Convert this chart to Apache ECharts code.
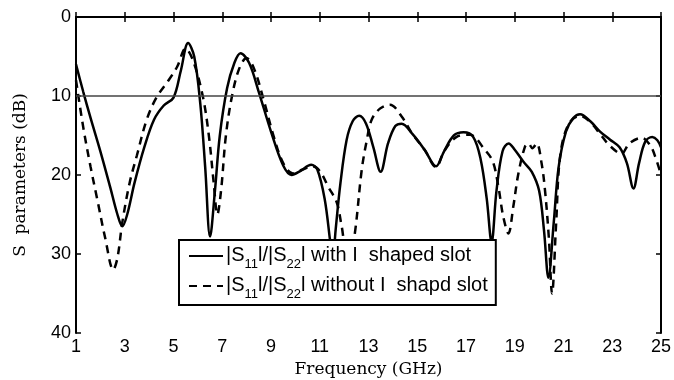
<!DOCTYPE html>
<html>
<head>
<meta charset="utf-8">
<script src="https://cdn.jsdelivr.net/npm/echarts@6/dist/echarts.min.js"></script>
<style>
html,body{margin:0;padding:0;background:#fff;}
#chart{width:674px;height:380px;}
</style>
</head>
<body>
<div id="chart"></div>
<script>
// Frequency (GHz) / S (dB) pairs
var withSlotX = [1,1.3,1.6,2.0,2.4,2.7,2.9,3.1,3.4,3.8,4.2,4.6,5.0,5.3,5.6,5.85,6.1,6.3,6.5,6.7,6.9,7.2,7.5,7.75,8.1,8.5,9.0,9.5,9.85,10.2,10.65,10.9,11.2,11.42,11.53,11.65,11.85,12.1,12.35,12.62,12.9,13.2,13.5,13.8,14.1,14.36,14.8,15.3,15.77,16.1,16.5,16.9,17.3,17.6,17.85,18.05,18.25,18.5,18.75,19.0,19.35,19.7,20.0,20.2,20.38,20.6,20.8,21.1,21.4,21.68,22.1,22.5,22.9,23.3,23.6,23.87,24.1,24.35,24.64,24.85,25.0];
var withSlotY = [6.0,9.5,12.8,17,21.5,25,26.5,25,21,16.5,13,11.2,10.2,6.8,3.3,5,11,19,27.8,22,15,9,5.8,4.6,5.8,9.5,14.5,18.8,20,19.5,18.7,19.3,23,28.2,31,27,21,15.6,13.2,12.5,13.5,16.5,19.6,16,13.8,13.5,14.8,16.8,18.9,17,15,14.6,15.2,18,23,28.5,22,17,16,16.8,18.3,19.6,22,27,33,26,19,14.5,12.8,12.3,13.2,14.5,15.5,16.5,18.5,21.7,18.5,15.8,15.2,15.6,16.5];
var noSlotX = [1,1.3,1.6,1.9,2.2,2.53,2.7,2.9,3.2,3.5,3.9,4.3,4.8,5.15,5.5,5.8,6.2,6.45,6.65,6.8,6.95,7.15,7.4,7.7,8.0,8.3,8.7,9.1,9.5,9.9,10.3,10.7,11.0,11.35,11.7,11.9,12.1,12.3,12.44,12.72,12.93,13.13,13.47,13.88,14.36,14.8,15.3,15.77,16.1,16.6,17.16,17.77,18.1,18.33,18.53,18.74,18.94,19.15,19.42,19.56,19.72,19.9,20.1,20.24,20.4,20.53,20.7,20.86,21.2,21.68,22.1,22.5,22.9,23.38,23.7,24.2,24.55,24.8,25.0];
var noSlotY = [8,14,19,23.5,28,32,30.5,26,21,17.5,13,10.2,8,6.3,4,5.5,10,15,21,25,22,15,10,6.5,5.2,6.5,10.5,15,18.5,19.8,19.3,18.9,19.5,21.5,23.5,26.5,29.5,29,27.4,19.4,15.6,13,11.6,11.1,12.6,14.8,16.8,19,17,15.2,14.9,16.8,18.3,21.5,25.3,27.4,24,19.8,16.4,16,16.6,16,18.5,21.9,28,35,26,17.7,13.6,12.5,13.3,14.8,16.3,17.3,16,15.3,16.2,18,20];
var xTicks = [1,3,5,7,9,11,13,15,17,19,21,23,25];
var yTicks = [0,10,20,30,40];
var refLevel = 10;

function pairs(xs, ys){ return xs.map(function(x,i){ return [x, ys[i]]; }); }

var chart = echarts.init(document.getElementById('chart'), null, {renderer:'canvas'});
var sans = 'Liberation Sans, Arial, sans-serif';
var serif = 'DejaVu Serif, serif';
var richTxt = {
  n:{fontFamily:sans,fontSize:20,lineHeight:22,color:'#000',verticalAlign:'top'},
  s:{fontFamily:sans,fontSize:13,lineHeight:14,color:'#000',verticalAlign:'top',padding:[13,0,0,0]}
};
chart.setOption({
  animation:false,
  backgroundColor:'#fff',
  grid:{left:76,right:13,top:17,bottom:47,containLabel:false,outerBoundsMode:'none'},
  xAxis:[{
    type:'value',min:xTicks[0],max:xTicks[xTicks.length-1],interval:2,
    name:'Frequency (GHz)',nameLocation:'middle',nameGap:23,
    nameTextStyle:{fontFamily:serif,fontSize:17,color:'#000'},
    axisLine:{lineStyle:{color:'#000',width:2}},
    axisTick:{inside:true,length:5,lineStyle:{color:'#000',width:1.5}},
    axisLabel:{fontFamily:sans,fontSize:18,color:'#000',margin:5},
    splitLine:{show:false}
  },{
    type:'value',position:'top',min:1,max:25,interval:2,
    axisLine:{lineStyle:{color:'#000',width:2}},
    axisTick:{inside:true,length:5,lineStyle:{color:'#000',width:1.5}},
    axisLabel:{show:false},splitLine:{show:false}
  }],
  yAxis:[{
    type:'value',inverse:true,min:yTicks[0],max:yTicks[yTicks.length-1],interval:10,
    name:'S  parameters (dB)',nameLocation:'middle',nameGap:47,
    nameTextStyle:{fontFamily:serif,fontSize:17,color:'#000'},
    axisLine:{lineStyle:{color:'#000',width:2}},
    axisTick:{inside:true,length:5,lineStyle:{color:'#000',width:1.5}},
    axisLabel:{fontFamily:sans,fontSize:18,color:'#000',margin:5},
    splitLine:{show:false}
  },{
    type:'value',inverse:true,position:'right',min:0,max:40,interval:10,
    axisLine:{lineStyle:{color:'#000',width:2}},
    axisTick:{inside:true,length:5,lineStyle:{color:'#000',width:1.5}},
    axisLabel:{show:false},splitLine:{show:false}
  }],
  legend:{
    orient:'vertical',left:179,top:240,
    backgroundColor:'#fff',borderColor:'#000',borderWidth:2,borderRadius:0,
    padding:[5,8,4,9],itemGap:4,itemWidth:34,itemHeight:14,
    itemStyle:{opacity:0},
    data:['with','without'],
    formatter:function(name){
      if(name==='with') return '{n||S}{s|11}{n|l/|S}{s|22}{n|l with I  shaped slot}';
      return '{n||S}{s|11}{n|l/|S}{s|22}{n|l without I  shapd slot}';
    },
    textStyle:{rich:richTxt,fontFamily:sans,fontSize:20,color:'#000',padding:[0,0,0,-2]}
  },
  series:[{
    name:'with',type:'line',symbol:'none',smooth:0.35,
    data:pairs(withSlotX,withSlotY),
    lineStyle:{color:'#000',width:2.5,type:'solid'},itemStyle:{color:'#000'},
    markLine:{silent:true,symbol:'none',label:{show:false},
      lineStyle:{color:'#444',width:1.5,type:'solid'},
      data:[{yAxis:refLevel}]},
    z:3
  },{
    name:'without',type:'line',symbol:'none',smooth:0.35,
    data:pairs(noSlotX,noSlotY),
    lineStyle:{color:'#000',width:2.5,type:[8,6]},itemStyle:{color:'#000'},
    z:2
  }]
});
</script>
</body>
</html>
